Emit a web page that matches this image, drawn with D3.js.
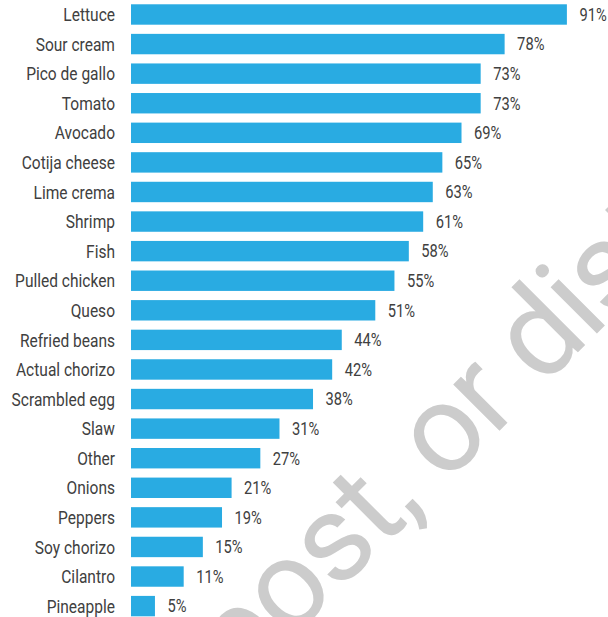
<!DOCTYPE html>
<html>
<head>
<meta charset="utf-8">
<script src="https://cdn.jsdelivr.net/npm/d3@7/dist/d3.min.js"></script>
<style>
  html, body { margin: 0; padding: 0; background: #ffffff; }
  svg { display: block; }
</style>
</head>
<body>
<svg id="chart" width="608" height="617"></svg>
<script>
// Share of respondents choosing each taco topping / filling (%)
const categories = [
  "Lettuce", "Sour cream", "Pico de gallo", "Tomato", "Avocado",
  "Cotija cheese", "Lime crema", "Shrimp", "Fish", "Pulled chicken",
  "Queso", "Refried beans", "Actual chorizo", "Scrambled egg", "Slaw",
  "Other", "Onions", "Peppers", "Soy chorizo", "Cilantro", "Pineapple"
];
const values = [91, 78, 73, 73, 69, 65, 63, 61, 58, 55, 51, 44, 42, 38, 31, 27, 21, 19, 15, 11, 5];
const valueLabels = values.map(v => v + "%");
const watermarkText = "Do not copy, post, or distribute";

const svg = d3.select("#chart");

const x = d3.scaleLinear().domain([0, 100]).range([131, 131 + 479]);
const y = d3.scaleBand()
  .domain(categories)
  .range([-0.3, 620.9])
  .paddingInner(0.31)
  .paddingOuter(0.155);

const textColor = "#404040";
const squeeze = 0.84;

// Diagonal watermark behind the chart, centred on the "o" of "or"
const wmSize = 124;
const wm = svg.append("g")
  .attr("transform", "translate(446,438) rotate(-45)");
const wmText = wm.append("text")
  .attr("x", 0)
  .attr("y", wmSize * 0.264)
  .attr("font-family", "Roboto, sans-serif")
  .attr("font-weight", 400)
  .attr("font-size", wmSize)
  .attr("letter-spacing", -2)
  .attr("fill", "#cccccc")
  .text(watermarkText);
const oIndex = watermarkText.indexOf(" or ") + 1;
const ext = wmText.node().getExtentOfChar(oIndex);
wmText.attr("x", -(ext.x + ext.width / 2));

// Bars
svg.append("g")
  .selectAll("rect")
  .data(categories)
  .join("rect")
  .attr("x", x(0))
  .attr("y", d => y(d))
  .attr("width", (d, i) => x(values[i]) - x(0))
  .attr("height", y.bandwidth())
  .attr("fill", "#29abe2");

// Category labels
svg.append("g")
  .selectAll("text")
  .data(categories)
  .join("text")
  .attr("transform", d => `translate(115,${y(d) + y.bandwidth() / 2}) scale(${squeeze},1)`)
  .attr("dy", "0.36em")
  .attr("text-anchor", "end")
  .attr("font-family", "Roboto, sans-serif")
  .attr("font-size", 18.5)
  .attr("fill", textColor)
  .text(d => d);

// Value labels
svg.append("g")
  .selectAll("text")
  .data(categories)
  .join("text")
  .attr("transform", (d, i) => `translate(${x(values[i]) + 12.5},${y(d) + y.bandwidth() / 2}) scale(${squeeze},1)`)
  .attr("dy", "0.36em")
  .attr("text-anchor", "start")
  .attr("font-family", "Roboto, sans-serif")
  .attr("font-size", 17.5)
  .attr("fill", textColor)
  .text((d, i) => valueLabels[i]);
</script>
</body>
</html>
